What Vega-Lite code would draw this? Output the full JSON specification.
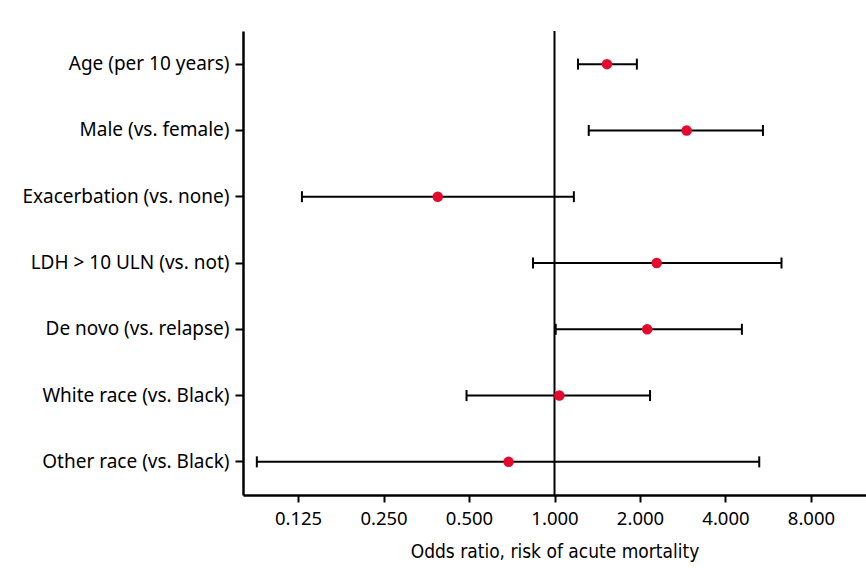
{
  "$schema": "https://vega.github.io/schema/vega-lite/v6.json",
  "width": 623,
  "height": 464,
  "autosize": {"type": "none"},
  "padding": {"left": 243, "top": 31, "right": 0, "bottom": 83},
  "background": "white",
  "config": {"view": {"stroke": null}, "font": "Noto Sans"},
  "data": {
    "values": [
      {"label": "Age (per 10 years)", "or": 1.53, "lo": 1.21, "hi": 1.95},
      {"label": "Male (vs. female)", "or": 2.92, "lo": 1.32, "hi": 5.42},
      {"label": "Exacerbation (vs. none)", "or": 0.388, "lo": 0.129, "hi": 1.17},
      {"label": "LDH > 10 ULN (vs. not)", "or": 2.29, "lo": 0.84, "hi": 6.3},
      {"label": "De novo (vs. relapse)", "or": 2.12, "lo": 1.01, "hi": 4.57},
      {"label": "White race (vs. Black)", "or": 1.04, "lo": 0.49, "hi": 2.17},
      {"label": "Other race (vs. Black)", "or": 0.689, "lo": 0.0895, "hi": 5.26}
    ]
  },
  "encoding": {
    "y": {
      "field": "label",
      "type": "nominal",
      "sort": null,
      "scale": {"type": "band", "paddingInner": 0, "paddingOuter": 0},
      "axis": {
        "title": null,
        "domainColor": "black",
        "domainWidth": 2.5,
        "tickColor": "black",
        "tickWidth": 2,
        "tickSize": 8,
        "labelFontSize": 19,
        "labelColor": "black",
        "labelPadding": 6,
        "labelLimit": 300,
        "labelFont": "Noto Sans"
      }
    }
  },
  "layer": [
    {
      "mark": {"type": "rule", "color": "black", "strokeWidth": 2},
      "encoding": {
        "x": {
          "field": "lo",
          "type": "quantitative",
          "scale": {"type": "log", "base": 2, "domain": [0.08, 12.5], "nice": false},
          "axis": {
            "values": [0.125, 0.25, 0.5, 1, 2, 4, 8],
            "format": ".3f",
            "grid": false,
            "domainColor": "black",
            "domainWidth": 2.5,
            "tickColor": "black",
            "tickWidth": 2,
            "tickSize": 7,
            "labelFontSize": 18.5,
            "labelColor": "black",
            "labelPadding": 7,
            "labelFont": "Noto Sans",
            "title": "Odds ratio, risk of acute mortality",
            "titleFont": "DejaVu Sans Condensed",
            "titleFontSize": 19,
            "titleFontWeight": "normal",
            "titleColor": "black",
            "titlePadding": 15
          }
        },
        "x2": {"field": "hi"}
      }
    },
    {
      "mark": {"type": "tick", "color": "black", "thickness": 2, "size": 11, "opacity": 1},
      "encoding": {"x": {"field": "lo", "type": "quantitative"}}
    },
    {
      "mark": {"type": "tick", "color": "black", "thickness": 2, "size": 11, "opacity": 1},
      "encoding": {"x": {"field": "hi", "type": "quantitative"}}
    },
    {
      "data": {"values": [{"ref": 1}]},
      "mark": {"type": "rule", "color": "black", "strokeWidth": 2},
      "encoding": {"x": {"field": "ref", "type": "quantitative"}, "y": null}
    },
    {
      "mark": {"type": "circle", "color": "#e4092d", "size": 110, "opacity": 1},
      "encoding": {"x": {"field": "or", "type": "quantitative"}}
    }
  ]
}
